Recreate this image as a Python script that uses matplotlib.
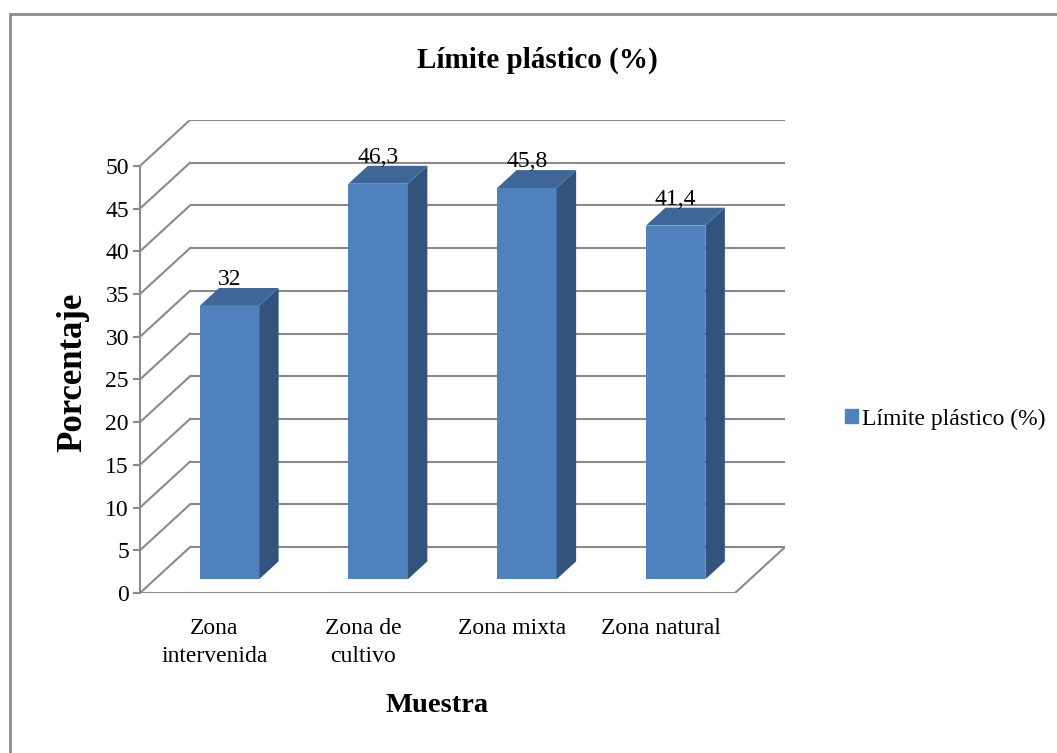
"""
Límite plástico - pseudo-3D column chart (Excel style)
"""

import matplotlib
matplotlib.use("Agg")
import matplotlib.pyplot as plt
from matplotlib.patches import Polygon, Rectangle, Patch


# datos
categories = ['Zona\nintervenida', 'Zona de\ncultivo', 'Zona mixta', 'Zona natural']
values = [32, 46.3, 45.8, 41.4]
value_labels = ['32', '46,3', '45,8', '41,4']
series_name = 'Límite plástico (%)'
y_ticks = [0, 5, 10, 15, 20, 25, 30, 35, 40, 45, 50]

# estilo
W, H = 1057, 753
FONT = 'Liberation Serif'
GRID = '#8a8a8a'
C_FRONT = '#4f81bd'
C_TOP = '#3e6797'
C_SIDE = '#32537c'
DEPTH_X = 0.336      # profundidad del piso en unidades de categoria
DEPTH_Y = 5.37       # profundidad del piso en unidades de valor
D0, D1 = 0.30, 0.69  # posicion de la barra dentro de la profundidad
BAR_W = 0.40

plt.rcParams['font.family'] = FONT

fig = plt.figure(figsize=(W / 100, H / 100), dpi=100)
ax = fig.add_axes([140 / W, 1 - 593 / H, 645 / W, 473 / H])
ax.set_xlim(0, len(categories) + DEPTH_X)
ax.set_ylim(0, y_ticks[-1] + DEPTH_Y)
ax.patch.set_visible(False)

for s in ['top', 'right', 'bottom']:
    ax.spines[s].set_visible(False)
ax.spines['left'].set_bounds(0, y_ticks[-1])
ax.spines['left'].set_color(GRID)
ax.spines['left'].set_linewidth(1.5)

# paredes: lineas de la pared del fondo y diagonales de la pared izquierda
n = len(categories)
for t in y_ticks:
    ax.plot([DEPTH_X, n + DEPTH_X], [t + DEPTH_Y, t + DEPTH_Y],
            color=GRID, lw=1.5, zorder=1, solid_capstyle='butt')
    ax.plot([0, DEPTH_X], [t, t + DEPTH_Y], color=GRID, lw=1.5, zorder=1)

# piso
ax.plot([0, n], [0, 0], color=GRID, lw=1.5, zorder=1, solid_capstyle='butt')
ax.plot([n, n + DEPTH_X], [0, DEPTH_Y], color=GRID, lw=1.5, zorder=1)

# barras 3D
for i, v in enumerate(values):
    x0 = i + (1 - BAR_W) / 2 + DEPTH_X * D0
    x1 = x0 + BAR_W
    y0 = DEPTH_Y * D0
    y1 = v + y0
    dx = DEPTH_X * (D1 - D0)
    dy = DEPTH_Y * (D1 - D0)
    ax.add_patch(Polygon([(x0, y0), (x1, y0), (x1, y1), (x0, y1)],
                         closed=True, fc=C_FRONT, ec='none', zorder=3))
    ax.add_patch(Polygon([(x1, y0), (x1 + dx, y0 + dy), (x1 + dx, y1 + dy), (x1, y1)],
                         closed=True, fc=C_SIDE, ec='none', zorder=3))
    ax.add_patch(Polygon([(x0, y1), (x1, y1), (x1 + dx, y1 + dy), (x0 + dx, y1 + dy)],
                         closed=True, fc=C_TOP, ec='none', zorder=3))
    ax.annotate(value_labels[i], (i + 0.5 + DEPTH_X * D0, v + DEPTH_Y * D1),
                xytext=(0, 2), textcoords='offset points',
                ha='center', va='baseline', fontsize=17, zorder=4)

# ejes
ax.set_yticks(y_ticks)
ax.set_yticklabels([str(t) for t in y_ticks])
ax.tick_params(axis='y', direction='out', length=5, width=1.5, color=GRID,
               labelsize=17, pad=3)
ax.set_xticks([i + 0.5 for i in range(n)])
ax.set_xticklabels(categories, fontsize=17, linespacing=1.45, va='top')
ax.tick_params(axis='x', length=0, pad=18)

# textos
fig.text(537 / W, 1 - 60 / H, series_name, ha='center', va='center',
         fontsize=21, fontweight='bold')
fig.text(437 / W, 1 - 706 / H, 'Muestra', ha='center', va='center',
         fontsize=20.5, fontweight='bold')
fig.text(73 / W, 1 - 372 / H, 'Porcentaje', ha='center', va='center',
         rotation=90, fontsize=25, fontweight='bold')

# leyenda
fig.legend(handles=[Patch(color=C_FRONT, label=series_name)],
           loc='center left', bbox_to_anchor=(836 / W, 1 - 419 / H),
           frameon=False, fontsize=17, handlelength=0.55, handleheight=0.55,
           handletextpad=0.15, borderaxespad=0)

# borde del grafico
fig.add_artist(Rectangle((10 / W, -0.1), 1.2, 1.1 - 14 / H, transform=fig.transFigure,
                         fill=False, ec='#8c8c8c', lw=2))

fig.savefig('out.png', dpi=100)
